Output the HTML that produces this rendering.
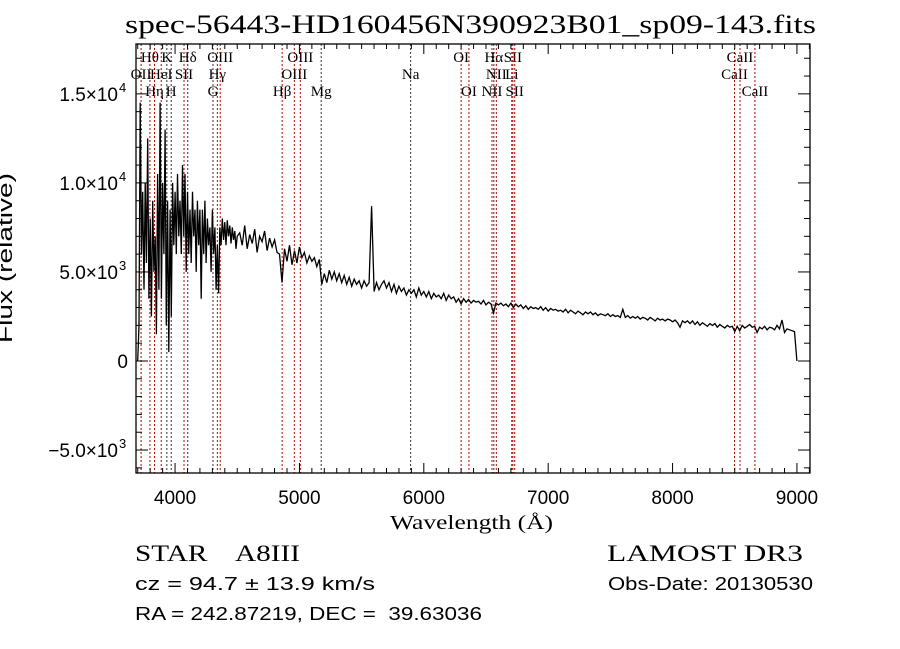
<!DOCTYPE html>
<html><head><meta charset="utf-8">
<style>
html,body{margin:0;padding:0;background:#fff;}
svg{display:block;}
text{font-family:"Liberation Sans Narrow","Liberation Sans",sans-serif;fill:#000;white-space:pre;}
</style></head>
<body>
<svg id="chart" width="900" height="649" viewBox="0 0 900 649" xmlns="http://www.w3.org/2000/svg" xml:space="preserve">
<rect width="900" height="649" fill="#fff"/>
<text x="125" y="33" font-size="26" textLength="691" lengthAdjust="spacingAndGlyphs" style="font-family:'Liberation Serif',serif">spec-56443-HD160456N390923B01_sp09-143.fits</text>
<g id="lines"></g>
<g id="spec"></g>
<g id="axes"></g>
<text x="390" y="529" font-size="20" textLength="163" lengthAdjust="spacingAndGlyphs" style="font-family:'Liberation Serif',serif">Wavelength (Å)</text>
<text transform="translate(12,258) rotate(-90)" text-anchor="middle" font-size="20" textLength="170" lengthAdjust="spacingAndGlyphs">Flux (relative)</text>
<text x="135" y="561" font-size="23" textLength="165" lengthAdjust="spacingAndGlyphs" style="font-family:'Liberation Serif',serif">STAR    A8III</text>
<text x="607" y="561" font-size="23" textLength="196" lengthAdjust="spacingAndGlyphs" style="font-family:'Liberation Serif',serif">LAMOST DR3</text>
<text x="135" y="590" font-size="18" textLength="240" lengthAdjust="spacingAndGlyphs">cz = 94.7 ± 13.9 km/s</text>
<text x="608" y="590" font-size="18" textLength="205" lengthAdjust="spacingAndGlyphs">Obs-Date: 20130530</text>
<text x="135" y="620" font-size="18" textLength="347" lengthAdjust="spacingAndGlyphs">RA = 242.87219, DEC =  39.63036</text>
</svg>
<script>
const xTicks=[4000,5000,6000,7000,8000,9000];
const yTicks=[-5000,0,5000,10000,15000];
const yTickLabels=["\u22125.0\u00d710","0","5.0\u00d710","1.0\u00d710","1.5\u00d710"];
const yTickExp=["3","","3","4","4"];
const lineWaves=[3727,3798,3835,3889,3934,3969,4072,4102,4305,4340,4363,4861,4959,5007,5175,5894,6300,6363,6548,6563,6583,6707,6716,6731,8498,8542,8662];
const lineNames=["OII","H\u03b8","H\u03b7","HeI","K","H","SII","H\u03b4","G","H\u03b3","OIII","H\u03b2","OIII","OIII","Mg","Na","OI","OI","NII","H\u03b1","NII","Li","SII","SII","CaII","CaII","CaII"];
const lineRows=[1,0,2,1,0,2,1,0,2,1,0,2,1,0,2,1,0,2,2,0,1,1,0,2,1,0,2];
const lineRed=[1,1,1,1,0,0,1,0,0,1,1,1,1,1,0,0,1,1,1,0,1,1,1,1,1,1,1];
const blueWaves=[3700,3710,3720,3730,3740,3750,3760,3770,3780,3790,3800,3810,3820,3830,3840,3850,3860,3870,3880,3890,3900,3910,3920,3930,3940,3950,3960,3970,3980,3990,4000,4010,4020,4030,4040,4050,4060,4070,4080,4090,4100,4110,4120,4130,4140,4150,4160,4170,4180,4190,4200,4210,4220,4230,4240,4250,4260,4270,4280,4290,4300,4310,4320,4330,4340,4350,4360,4370,4380,4390,4400,4410,4420,4430,4440,4450,4460,4470,4480,4490,4500];
const blueFlux=[0,2000,14500,6000,9500,4000,10000,5500,12500,3500,8000,2500,9000,5000,7000,1500,10500,4000,14500,3500,10000,6000,13000,2000,9000,500,8500,2500,10000,6500,9500,6000,10500,7000,9000,6000,11000,7000,10500,5000,9500,6000,8500,5500,9500,7000,8500,5000,9000,6500,8500,3500,8500,6000,9000,5500,8000,6500,7500,5000,8500,6000,7500,4000,6500,3800,7500,6500,8000,6800,7800,6500,7900,7000,7600,6600,7500,6800,7300,6300,7000];
const redStart=4520, redStep=20;
const redFlux=[
7200,6500,7600,6300,7100,6600,7400,6100,7000,6700,
7300,6200,6900,6400,6800,6100,6000,4400,6300,5600,
6500,5400,6200,5500,6400,5800,6100,5500,5900,5600,
5800,5300,5700,4300,4900,4400,5100,4600,5000,4500,
4900,4400,4800,4300,4700,4200,4600,4300,4500,4100,
4500,4200,4400,8700,3900,4400,4000,4300,4500,4100,
4400,3900,4300,3800,4200,3900,4100,3700,4000,3800,
4000,3600,4100,3700,3900,3600,3900,3500,3800,3600,
3700,3500,3800,3400,3700,3500,3600,3300,3500,3200,
3500,3300,3450,3250,3400,3300,3350,3200,3400,3150,
3300,3200,2700,3250,3150,3250,3100,3200,3050,3250,
3000,3200,3050,3150,2950,3100,2900,3050,2950,3000,
2900,3050,2850,3000,2800,2950,2850,2900,2800,2850,
2750,2900,2700,2850,2750,2650,2800,2700,2600,2750,
2650,2750,2600,2700,2550,2650,2600,2550,2650,2500,
2600,2500,2550,2450,2900,2450,2550,2400,2500,2400,
2500,2350,2450,2400,2300,2450,2350,2250,2400,2300,
2350,2250,2350,2300,2200,2300,2150,1900,2250,2150,
2250,2100,2250,2050,2200,2000,2150,2050,1950,2100,
2000,2100,1900,2050,1950,1850,2000,1900,1950,1650,
1950,1700,2000,1850,1950,2050,1900,1950,1600,1900,
1800,1950,1750,1900,1850,1750,2000,1800,2300,1600,
1800,1750,1700,1650,0];

const waves=blueWaves.slice();
const flux=blueFlux.slice();
redFlux.forEach((v,i)=>{waves.push(redStart+i*redStep);flux.push(v);});

const NS="http://www.w3.org/2000/svg";
const L=136,R=810,T=44,B=473;
const xMin=3686,xMax=9105,yMin=-6290,yMax=17800;
function X(w){return L+(w-xMin)/(xMax-xMin)*(R-L);}
function Y(v){return B-(v-yMin)/(yMax-yMin)*(B-T);}
function mk(tag,attrs,parent){const e=document.createElementNS(NS,tag);for(const k in attrs)e.setAttribute(k,attrs[k]);parent.appendChild(e);return e;}

const lg=document.getElementById('lines');
const rowY=[62,79,96];
lineWaves.forEach((w,i)=>{
  const x=X(w);
  const ln=mk('line',{x1:x,y1:T,x2:x,y2:B,stroke:lineRed[i]?'#c00000':'#333','stroke-width':1,'stroke-dasharray':'2,2'},lg);
  
  
  const t=mk('text',{x:x,y:rowY[lineRows[i]],'text-anchor':'middle','font-size':15,style:"font-family:'Liberation Serif',serif"},lg);
  t.textContent=lineNames[i];
  
  
});

const sg=document.getElementById('spec');
let d='';
waves.forEach((w,i)=>{d+=(i?'L':'M')+X(w).toFixed(1)+','+Y(flux[i]).toFixed(1);});
const p=mk('path',{d:d,fill:'none',stroke:'#000','stroke-width':1.3,'stroke-linejoin':'miter'},sg);



const ag=document.getElementById('axes');
const fr=mk('rect',{x:L,y:T,width:R-L,height:B-T,fill:'none',stroke:'#000','stroke-width':1.3},ag);


for(let w=3700;w<=9100;w+=100){
  const x=X(w);const major=w%1000===0;const len=major?10:5;
  mk('line',{x1:x,y1:B,x2:x,y2:B-len,stroke:'#000'},ag);
  mk('line',{x1:x,y1:T,x2:x,y2:T+len,stroke:'#000'},ag);
}
xTicks.forEach(w=>{
  const t=mk('text',{x:X(w),y:504,'text-anchor':'middle','font-size':19},ag);
  t.textContent=w;
  
  
});
for(let v=-6000;v<=17000;v+=1000){
  const y=Y(v);const major=v%5000===0;const len=major?12:6;
  mk('line',{x1:L,y1:y,x2:L+len,y2:y,stroke:'#000'},ag);
  mk('line',{x1:R,y1:y,x2:R-len,y2:y,stroke:'#000'},ag);
}
yTicks.forEach((v,i)=>{
  const y=Y(v);
  const t=mk('text',{x:yTickExp[i]?118:128,y:y+7,'text-anchor':'end','font-size':19},ag);
  t.textContent=yTickLabels[i];
  
  
  if(yTickExp[i]){
    const e=mk('text',{x:119,y:y-2,'font-size':13},ag);
    e.textContent=yTickExp[i];
    
    
  }
});
</script>
</body></html>
